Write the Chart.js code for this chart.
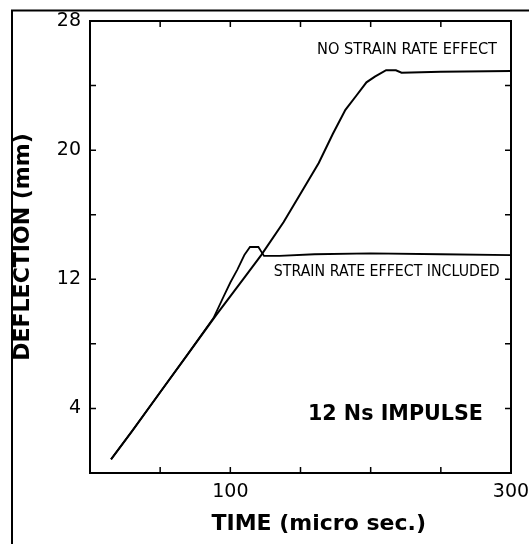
<!DOCTYPE html>
<html>
<head>
<meta charset="utf-8">
<script src="https://cdn.jsdelivr.net/npm/chart.js@4"></script>
<style>
  html, body { margin: 0; padding: 0; background: #fff; }
  canvas { display: block; }
</style>
</head>
<body>
<canvas id="deflChart" width="529" height="544"></canvas>
<script>
// ===== Data =====
const timeNoRate = [15, 30, 50, 70, 90, 110, 122, 138, 152, 163, 173, 182, 190, 197, 203, 211, 218, 222, 250, 300];
const deflNoRate = [0.85, 2.6, 5.0, 7.4, 9.8, 12.1, 13.5, 15.55, 17.6, 19.2, 21.0, 22.5, 23.4, 24.2, 24.55, 24.95, 24.95, 24.8, 24.85, 24.9];

const timeRate = [15, 30, 50, 70, 88, 95, 100, 105, 110, 114, 120, 122.5, 124, 135, 160, 200, 250, 300];
const deflRate = [0.85, 2.6, 5.0, 7.4, 9.6, 10.9, 11.8, 12.6, 13.5, 14.0, 14.0, 13.65, 13.45, 13.45, 13.55, 13.6, 13.55, 13.5];

const xTickLabels = [100, 300];
const yTickLabels = [4, 12, 20, 28];

// annotation text, placed in data coordinates [time, deflection]
const notes = [
  { text: "NO STRAIN RATE EFFECT", t: 290, d: 26.2, font: "15px 'DejaVu Sans'", maxW: 180 },
  { text: "STRAIN RATE EFFECT INCLUDED", t: 292, d: 12.45, font: "15px 'DejaVu Sans'", maxW: 226 },
  { text: "12 Ns IMPULSE", t: 280, d: 3.65, font: "bold 21px 'DejaVu Sans'", maxW: 175 }
];

const toPoints = (xs, ys) => xs.map((x, i) => ({ x: x, y: ys[i] }));

// ===== Frame, inward ticks, notes =====
const framePlugin = {
  id: "frame",
  afterDraw(chart) {
    const { ctx, chartArea: a, scales } = chart;
    ctx.save();
    ctx.strokeStyle = "#000";
    ctx.lineWidth = 2;

    // outer border of the figure
    ctx.beginPath();
    ctx.moveTo(12, 544);
    ctx.lineTo(12, 10.5);
    ctx.lineTo(529, 10.5);
    ctx.stroke();

    ctx.strokeRect(a.left, a.top, a.right - a.left, a.bottom - a.top);

    // inward tick marks on all four sides
    ctx.lineWidth = 1.5;
    ctx.beginPath();
    scales.x.ticks.forEach(tk => {
      if (tk.value <= scales.x.min || tk.value >= scales.x.max) return;
      const px = scales.x.getPixelForValue(tk.value);
      ctx.moveTo(px, a.bottom); ctx.lineTo(px, a.bottom - 6);
      ctx.moveTo(px, a.top); ctx.lineTo(px, a.top + 6);
    });
    scales.y.ticks.forEach(tk => {
      if (tk.value <= scales.y.min || tk.value >= scales.y.max) return;
      const py = scales.y.getPixelForValue(tk.value);
      ctx.moveTo(a.left, py); ctx.lineTo(a.left + 6, py);
      ctx.moveTo(a.right, py); ctx.lineTo(a.right - 6, py);
    });
    ctx.stroke();

    // notes
    ctx.fillStyle = "#000";
    ctx.textAlign = "right";
    ctx.textBaseline = "middle";
    notes.forEach(n => {
      ctx.font = n.font;
      ctx.fillText(n.text, scales.x.getPixelForValue(n.t), scales.y.getPixelForValue(n.d), n.maxW);
    });

    // x axis title (sits a bit right of centre in the original)
    ctx.font = "bold 22px 'DejaVu Sans'";
    ctx.textAlign = "center";
    ctx.fillText("TIME (micro sec.)", scales.x.getPixelForValue(163), 524);
    ctx.restore();
  }
};

// ===== Chart =====
const deflChart = new Chart(document.getElementById("deflChart"), {
  type: "scatter",
  data: {
    datasets: [
      {
        label: "No strain rate effect",
        data: toPoints(timeNoRate, deflNoRate),
        showLine: true,
        borderColor: "#000",
        borderWidth: 2,
        pointRadius: 0,
        tension: 0
      },
      {
        label: "Strain rate effect included",
        data: toPoints(timeRate, deflRate),
        showLine: true,
        borderColor: "#000",
        borderWidth: 1.8,
        pointRadius: 0,
        tension: 0
      }
    ]
  },
  options: {
    responsive: false,
    animation: false,
    layout: { padding: { top: 21, right: 18, left: 0, bottom: 0 } },
    plugins: { legend: { display: false }, tooltip: { enabled: false } },
    scales: {
      x: {
        type: "linear",
        min: 0,
        max: 300,
        grid: { display: false, drawTicks: false },
        border: { display: false },
        ticks: {
          stepSize: 50,
          padding: 8,
          color: "#000",
          font: { family: "DejaVu Sans", size: 19 },
          maxRotation: 0,
          callback: v => xTickLabels.includes(v) ? String(v) : ""
        },
        afterFit: s => { s.height = 71; s.paddingLeft = 0; s.paddingRight = 0; }
      },
      y: {
        type: "linear",
        min: 0,
        max: 28,
        grid: { display: false, drawTicks: false },
        border: { display: false },
        ticks: {
          stepSize: 4,
          padding: 9,
          color: "#000",
          font: { family: "DejaVu Sans", size: 19 },
          callback: v => yTickLabels.includes(v) ? String(v) : ""
        },
        title: {
          display: true,
          text: "DEFLECTION (mm)",
          color: "#000",
          font: { family: "DejaVu Sans", size: 22, weight: "bold" },
          padding: { top: 10, bottom: 0 }
        },
        afterFit: s => { s.width = 90; s.paddingTop = 0; s.paddingBottom = 0; }
      }
    }
  },
  plugins: [framePlugin]
});
</script>
</body>
</html>
